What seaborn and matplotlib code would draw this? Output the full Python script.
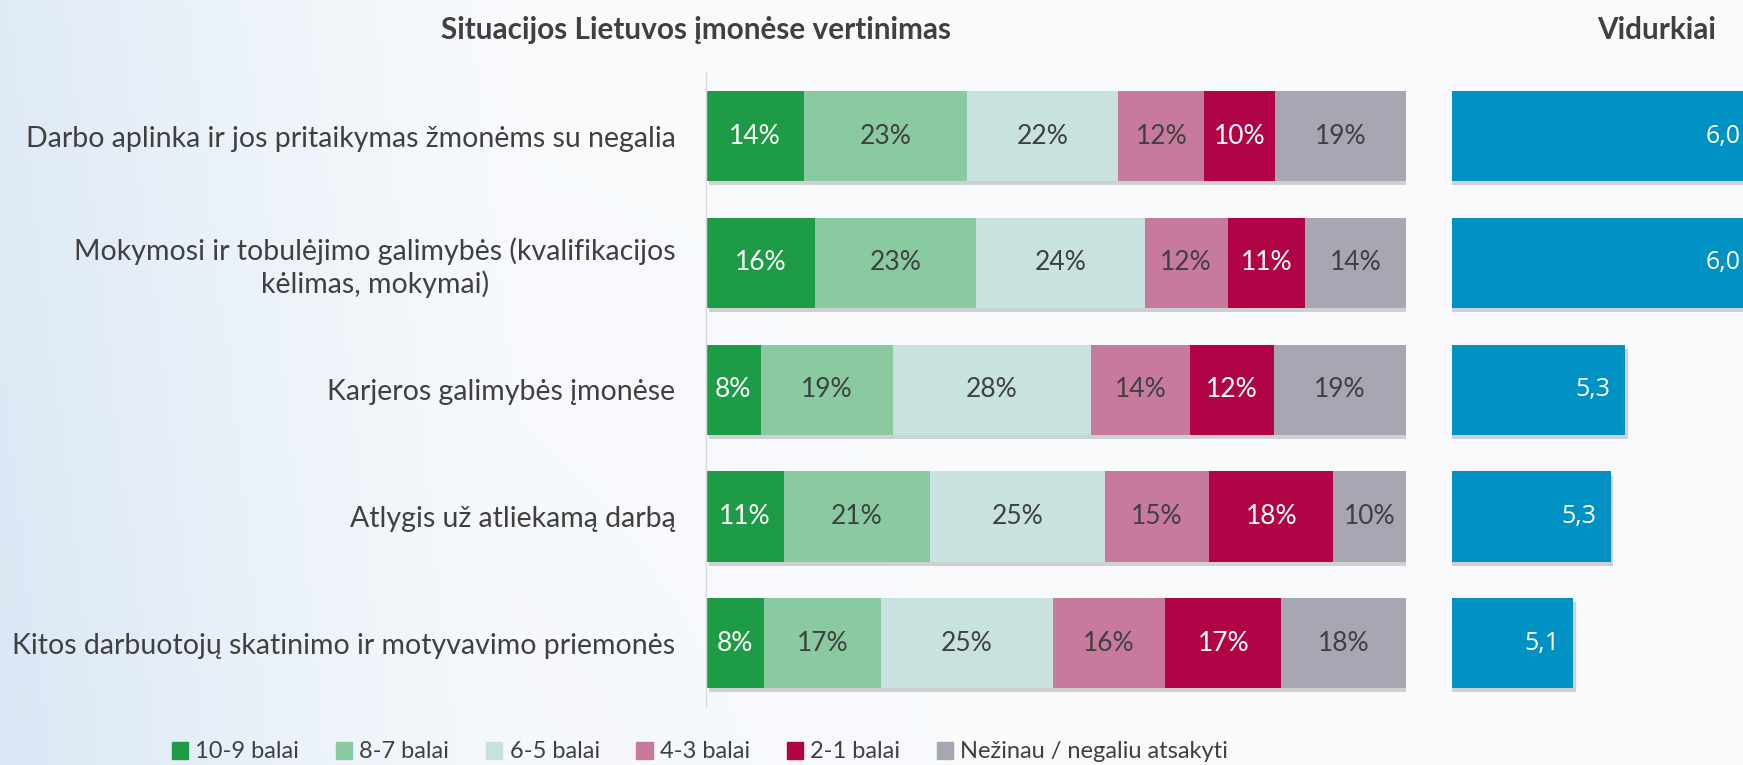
import numpy as np
import pandas as pd
import matplotlib
matplotlib.use("Agg")
import matplotlib.pyplot as plt
import matplotlib.patheffects as pe
import seaborn as sns

sns.set_style("white")
plt.rcParams['font.family'] = ['Lato', 'DejaVu Sans']

# duomenys
categories = [
    "Darbo aplinka ir jos pritaikymas žmonėms su negalia",
    "Mokymosi ir tobulėjimo galimybės (kvalifikacijos\nkėlimas, mokymai)",
    "Karjeros galimybės įmonėse",
    "Atlygis už atliekamą darbą",
    "Kitos darbuotojų skatinimo ir motyvavimo priemonės",
]
series_names = ["10-9 balai", "8-7 balai", "6-5 balai", "4-3 balai", "2-1 balai",
                "Nežinau / negaliu atsakyti"]
s_10_9 = [14.0, 15.6, 7.8, 11.1, 8.3]
s_8_7 = [23.3, 22.9, 18.9, 20.9, 16.7]
s_6_5 = [21.6, 24.2, 28.3, 25.0, 24.6]
s_4_3 = [12.3, 11.8, 14.1, 14.9, 16.0]
s_2_1 = [10.1, 11.1, 12.0, 17.7, 16.6]
s_nz = [18.7, 14.4, 18.9, 10.4, 17.8]
averages = [6.02, 6.0, 5.32, 5.26, 5.10]
avg_labels = ["6,0", "6,0", "5,3", "5,3", "5,1"]

colors = ["#1e9b46", "#89caa0", "#c8e3df", "#c87a9e", "#b00447", "#a7a6b3"]
text_colors = ["white", "#404040", "#404040", "#404040", "white", "#404040"]
blue = "#0091c5"

df = pd.DataFrame(dict(zip(series_names, [s_10_9, s_8_7, s_6_5, s_4_3, s_2_1, s_nz])))
df["kategorija"] = categories
cum = df[series_names].cumsum(axis=1)

fig = plt.figure(figsize=(17.43, 7.65), dpi=100)

# fonas
bg = fig.add_axes([0, 0, 1, 1], zorder=-10)
xx = np.linspace(0, 1, 400)
yy = np.linspace(0, 1, 200)
X, Y = np.meshgrid(xx, yy)
w = np.clip(1 - X / 0.3, 0, 1) ** 1.2 * 0.85 + np.clip(1 - X / 0.6, 0, 1) * 0.2 * Y
c0 = np.array([0.86, 0.91, 0.96])
c1 = np.array([0.975, 0.982, 0.992])
img = c1 + (c0 - c1) * w[..., None]
bg.imshow(img, aspect="auto", extent=[0, 1, 0, 1], origin="upper")
bg.axis("off")

shadow = [pe.SimplePatchShadow(offset=(2, -3), alpha=0.25, shadow_rgbFace="#555555"), pe.Normal()]

# kairė: sudėtinės juostos
ax = fig.add_axes([706 / 1743, 58.3 / 765, 700 / 1743, 634 / 765])
ax.patch.set_alpha(0)
for i in range(len(series_names) - 1, -1, -1):
    sns.barplot(x=cum[series_names[i]], y=df["kategorija"], color=colors[i],
                orient="h", width=0.71, ax=ax, saturation=1, linewidth=0)
for p in ax.patches[:len(categories)]:
    p.set_path_effects(shadow)
for i, name in enumerate(series_names):
    for j in range(len(categories)):
        val = df[name][j]
        ax.text(cum[name][j] - val / 2, j, f"{round(val)}%", ha="center", va="center",
                fontsize=19, color=text_colors[i])
ax.set_xlim(0, 100)
ax.set_ylim(4.5, -0.5)
ax.set_xlabel("")
ax.set_ylabel("")
ax.set_xticks([])
ax.set_yticks(range(len(categories)))
ax.set_yticklabels(categories, fontsize=20.5, color="#404040", multialignment="center")
ax.tick_params(axis="y", length=0, pad=22)
for s in ["top", "right", "bottom"]:
    ax.spines[s].set_visible(False)
ax.spines["left"].set_color("#d9d9d9")
ax.spines["left"].set_linewidth(1)

# dešinė: vidurkiai
ax2 = fig.add_axes([1452 / 1743, 58.3 / 765, 291 / 1743, 634 / 765])
ax2.patch.set_alpha(0)
avg_df = pd.DataFrame({"kategorija": categories, "vidurkis": averages})
sns.barplot(data=avg_df, x="vidurkis", y="kategorija", color=blue, orient="h",
            width=0.71, ax=ax2, saturation=1, linewidth=0)
for p in ax2.patches:
    p.set_path_effects(shadow)
xmin, xmax = 4.585, 5.823
ax2.set_xlim(xmin, xmax)
ax2.set_ylim(4.5, -0.5)
for j, (v, lab) in enumerate(zip(averages, avg_labels)):
    xpos = min(v, xmax)
    off = -2 if v > xmax else -14
    ax2.annotate(lab, (xpos, j), xytext=(off * 0.72, 0), textcoords="offset points",
                 ha="right", va="center", color="white", fontsize=18,
                 family="Open Sans", fontweight="normal")
ax2.axis("off")

# antraštės
fig.text(696 / 1743, 1 - 30 / 765, "Situacijos Lietuvos įmonėse vertinimas", ha="center",
         va="center", fontsize=21.4, fontweight="bold", color="#404040")
fig.text(1657 / 1743, 1 - 30 / 765, "Vidurkiai", ha="center", va="center",
         fontsize=21.4, fontweight="bold", color="#404040")

# legenda
handles = [plt.Rectangle((0, 0), 1, 1, color=c) for c in colors]
fig.legend(handles, series_names, loc="center", bbox_to_anchor=(700 / 1743, 1 - 752 / 765),
           ncol=6, frameon=False, fontsize=17, handlelength=0.7, handleheight=0.7,
           handletextpad=0.3, columnspacing=1.55, labelcolor="#404040")

fig.savefig("out.png", dpi=100)
